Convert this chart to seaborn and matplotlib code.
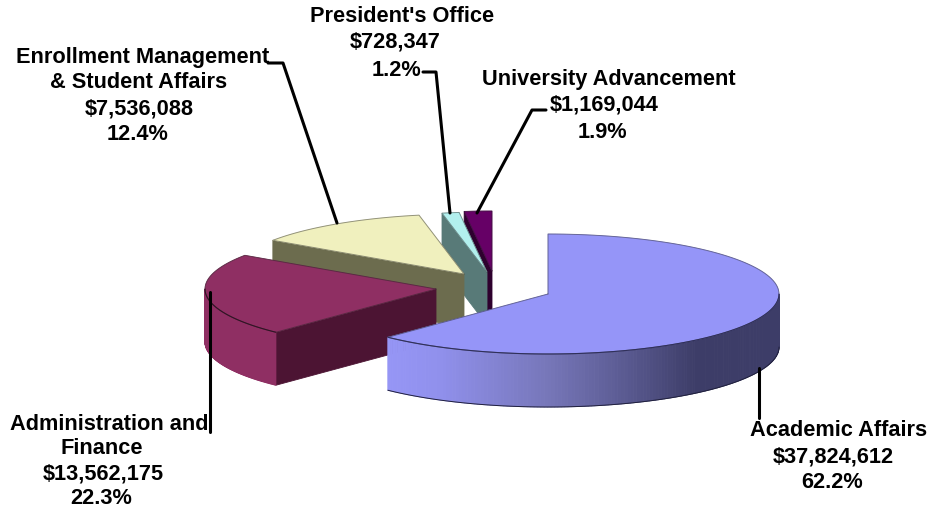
import numpy as np
import matplotlib
matplotlib.use("Agg")
import matplotlib.pyplot as plt
import seaborn as sns

# FY budget by division, in dollars
divisions = ["Academic Affairs", "Administration and Finance",
             "Enrollment Management & Student Affairs",
             "President's Office", "University Advancement"]
dollars = [37824612, 13562175, 7536088, 728347, 1169044]

# Label text, one entry per drawn line
name_lines = [["Academic Affairs"],
              ["Administration and", "Finance"],
              ["Enrollment Management", "& Student Affairs"],
              ["President's Office"],
              ["University Advancement"]]

top_colors = ["#9595F8", "#8F2F63", "#F0F0BE", "#B2F0EE", "#660066"]
cut_colors = ["#3D3D68", "#4C1433", "#6C6C4E", "#587A78", "#2E002E"]

sns.set_theme(style="white")
plt.rcParams["font.family"] = ["Liberation Sans", "DejaVu Sans"]

RX, RY, DEPTH = 231.0, 60.0, 53.0
# Exploded apex of each slice on the pixel-sized canvas
apexes = [(548, 294), (436, 289), (464, 274), (487, 272), (492, 271)]
# Centre of every label line, per slice
label_x = [[839, 833, 832], [109, 102, 103, 101], [143, 139, 139, 138],
           [402, 395, 396], [609, 604, 602]]
label_y = [[431, 457, 483], [424, 449, 474, 498], [57, 82, 109, 134],
           [17, 42, 70], [80, 105, 132]]
leaders = [[(759, 368), (759, 418)],
           [(210, 292), (210, 432)],
           [(268, 63), (283, 63), (337, 223)],
           [(423, 72), (436, 72), (450, 213)],
           [(546, 110), (532, 110), (477, 213)]]

fig = plt.figure(figsize=(9.3, 5.13), dpi=100)
ax = fig.add_axes([0, 0, 1, 1])
ax.set_xlim(0, 930)
ax.set_ylim(513, 0)
ax.axis("off")

fractions = np.array(dollars, dtype=float) / sum(dollars)
edges = np.concatenate([[0], np.cumsum(fractions)]) * 2 * np.pi


def rim(apex, a0, a1, n=120):
    t = np.linspace(a0, a1, n)
    return apex[0] + RX * np.sin(t), apex[1] - RY * np.cos(t)


def corner(apex, a):
    return apex[0] + RX * np.sin(a), apex[1] - RY * np.cos(a)


def cut_face(apex, a, color, z):
    x, y = corner(apex, a)
    ax.fill([apex[0], x, x, apex[0]], [apex[1], y, y + DEPTH, apex[1] + DEPTH],
            color=color, lw=0.6, zorder=z)


def outer_side(apex, a0, a1, colors, z):
    xs, ys = rim(apex, a0, a1, 160)
    for i in range(len(xs) - 1):
        ax.fill([xs[i], xs[i + 1], xs[i + 1], xs[i]],
                [ys[i], ys[i + 1], ys[i + 1] + DEPTH, ys[i] + DEPTH],
                color=colors(0.5 * (xs[i] + xs[i + 1])), lw=0.7, zorder=z)


def top_face(apex, a0, a1, color, z):
    xs, ys = rim(apex, a0, a1)
    ax.fill(np.r_[apex[0], xs], np.r_[apex[1], ys], color=color, lw=0.5, zorder=z)
    # Thin dark outline along the slice boundary
    ax.plot(np.r_[apex[0], xs, apex[0]], np.r_[apex[1], ys, apex[1]],
            color="#202020", alpha=0.45, lw=0.7, zorder=z + 1)


# Side shading of the large slice runs from lit on the left to shadow on the right
stops_x = [386, 440, 549, 620, 695, 781]
stops_rgb = np.array([sns.color_palette([c])[0] for c in
                      ["#9696F6", "#9090EC", "#7676B8", "#5C5C94", "#3D3D68", "#3D3D68"]])


def academic_shade(x):
    return tuple(np.interp(x, stops_x, stops_rgb[:, k]) for k in range(3))


# Back-to-front: small slices first, the large slice last
order = [4, 3, 2, 1, 0]
for z, i in enumerate(order):
    base = 10 * (z + 1)
    a0, a1 = edges[i], edges[i + 1]
    apex = apexes[i]
    if i == 0:
        outer_side(apex, np.pi / 2, a1, academic_shade, base)
        x, y = rim(apex, np.pi / 2, a1)
        ax.plot(x, y + DEPTH, color="#20203c", lw=0.7, zorder=base + 1)
    elif i == 1:
        cut_face(apex, a0, cut_colors[i], base)
        outer_side(apex, a0, 1.5 * np.pi, lambda _: top_colors[1], base)
        x, y = rim(apex, a0, 1.5 * np.pi)
        ax.plot(x, y, color="#3a1028", lw=0.8, zorder=base + 3)
    else:
        cut_face(apex, a0, cut_colors[i], base)
    top_face(apex, a0, a1, top_colors[i], base + 2)
    if i == 0:
        x, y = rim(apex, np.pi / 2, a1)
        ax.plot(x, y, color="#30305a", lw=0.8, zorder=base + 4)

for path in leaders:
    px, py = zip(*path)
    sns.lineplot(x=list(px), y=list(py), sort=False, color="black", lw=2.2, ax=ax,
                 estimator=None, zorder=60)

for i, names in enumerate(name_lines):
    lines = names + [f"${dollars[i]:,}", f"{fractions[i] * 100:.1f}%"]
    for line, x, y in zip(lines, label_x[i], label_y[i]):
        ax.text(x, y, line, ha="center", va="center", fontsize=15.7,
                fontweight="bold", color="black", zorder=70)

fig.savefig("out.png", dpi=100)
